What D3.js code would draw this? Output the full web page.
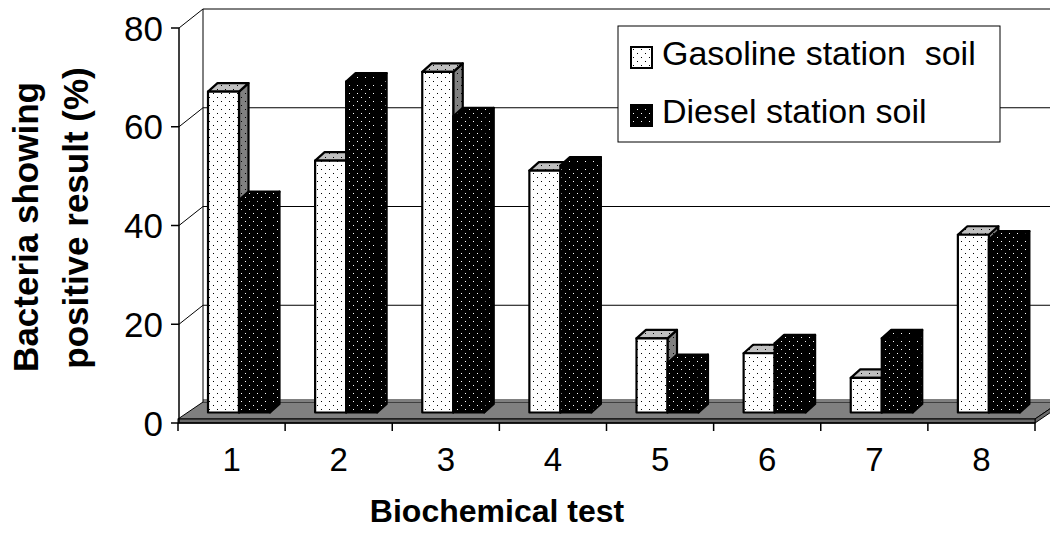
<!DOCTYPE html>
<html><head><meta charset="utf-8">
<script src="https://cdn.jsdelivr.net/npm/d3@7"></script>
<style>body{margin:0;background:#fff} text{font-family:"Liberation Sans",Arial,sans-serif;fill:#000}</style>
</head><body><svg id="c" width="1050" height="537"></svg>
<script>
const categories = ["1","2","3","4","5","6","7","8"];
const gasoline = [65,51,69,49,15,12,7,36];
const diesel = [43,67,60,50,10,14,15,35];
const seriesNames = ["Gasoline station  soil","Diesel station soil"];
const yTicks = [0,20,40,60,80];
const yTitle = ["Bacteria showing","positive result (%)"];
const xTitle = "Biochemical test";

const svg = d3.select("#c");
const x = d3.scaleBand().domain(categories).range([178,1035]);
const y = d3.scaleLinear().domain([0,80]).range([423,28]);
const WD = [25,-19];      // wall depth offset
const BP = [13,-10.5];    // bar front plane offset
const BD = [9.5,-8.5];    // bar depth offset
const sub = d3.scaleBand().domain([0,1]).range([17,79]);
const x0 = x.range()[0], x1 = x.range()[1], y0 = y(0);

const defs = svg.append("defs");
function pat(id,bg,fg){
  const p = defs.append("pattern").attr("id",id).attr("patternUnits","userSpaceOnUse")
    .attr("width",8).attr("height",8);
  p.append("rect").attr("width",8).attr("height",8).attr("fill",bg);
  [[1,1],[5,5]].forEach(d=>p.append("rect").attr("x",d[0]).attr("y",d[1]).attr("width",1).attr("height",1).attr("fill",fg));
}
pat("gasFront","#ffffff","#000");
pat("gasTop","#c0c0c0","#000");
pat("gasSide","#808080","#000");
pat("dieFront","#000000","#fff");

const series = [
  {name:seriesNames[0], values:gasoline, front:"url(#gasFront)", top:"url(#gasTop)", side:"url(#gasSide)"},
  {name:seriesNames[1], values:diesel, front:"url(#dieFront)", top:"url(#dieFront)", side:"url(#dieFront)"}
];

// back wall + left wall
const g = svg.append("g");
yTicks.forEach(v=>{
  g.append("line").attr("x1",x0+WD[0]).attr("x2",1050).attr("y1",y(v)+WD[1]).attr("y2",y(v)+WD[1])
    .attr("stroke","#000").attr("stroke-width",1);
  if(v>0) g.append("line").attr("x1",x0+1).attr("y1",y(v)).attr("x2",x0+WD[0]).attr("y2",y(v)+WD[1])
    .attr("stroke","#000").attr("stroke-width",1);
});
g.append("line").attr("x1",x0+WD[0]).attr("x2",x0+WD[0]).attr("y1",y(80)+WD[1]).attr("y2",y0+WD[1])
  .attr("stroke","#000").attr("stroke-width",1);
g.append("line").attr("x1",x0+WD[0]).attr("x2",1050).attr("y1",y0+WD[1]-4).attr("y2",y0+WD[1]-4)
  .attr("stroke","#000").attr("stroke-width",1);

// floor
const ft = y0-4, bt = y0+WD[1]-2;
g.append("path").attr("d",`M${x0},${ft}L${x1},${ft}L${x1+WD[0]},${bt}L${x0+WD[0]},${bt}Z`)
  .attr("fill","#808080").attr("stroke","#000").attr("stroke-width",1);
g.append("path").attr("d",`M${x1},${ft}L${x1+WD[0]},${bt}L${x1+WD[0]},${bt+4}L${x1},${y0}Z`)
  .attr("fill","#6a6a6a").attr("stroke","#000").attr("stroke-width",1);
g.append("rect").attr("x",x0).attr("y",ft).attr("width",x1-x0).attr("height",y0-ft)
  .attr("fill","#6a6a6a").attr("stroke","#000").attr("stroke-width",1);

// bars
const bars = svg.append("g");
categories.forEach((c,i)=>{
  series.forEach((s,si)=>{
    const v = s.values[i];
    const L = x(c)+BP[0]+sub(si), R = L+sub.bandwidth();
    const T = y(v)+BP[1], B = y(0)+BP[1];
    const bg = bars.append("g").attr("stroke","#000").attr("stroke-width",2.2).attr("stroke-linejoin","round");
    bg.append("path").attr("d",`M${R},${B}L${R+BD[0]},${B+BD[1]}L${R+BD[0]},${T+BD[1]}L${R},${T}Z`).attr("fill",s.side);
    bg.append("path").attr("d",`M${L},${T}L${L+BD[0]},${T+BD[1]}L${R+BD[0]},${T+BD[1]}L${R},${T}Z`).attr("fill",s.top);
    bg.append("rect").attr("x",L).attr("y",T).attr("width",R-L).attr("height",B-T).attr("fill",s.front);
  });
});

// axes
const ax = svg.append("g");
ax.append("line").attr("x1",x0+1).attr("x2",x0+1).attr("y1",y(80)).attr("y2",y0).attr("stroke","#000").attr("stroke-width",1.5);
yTicks.forEach(v=>{
  ax.append("line").attr("x1",x0-7).attr("x2",x0+1).attr("y1",y(v)).attr("y2",y(v)).attr("stroke","#000").attr("stroke-width",1.5);
  ax.append("text").attr("x",163).attr("y",y(v)).attr("dy","0.36em").attr("text-anchor","end")
    .attr("font-size",35).text(v);
});
ax.append("line").attr("x1",x0).attr("x2",x1).attr("y1",y0).attr("y2",y0).attr("stroke","#000").attr("stroke-width",1.5);
categories.concat([null]).forEach((c,i)=>{
  const xx = c===null ? x1 : x(c);
  ax.append("line").attr("x1",xx).attr("x2",xx).attr("y1",y0).attr("y2",y0+8).attr("stroke","#000").attr("stroke-width",1.5);
});
categories.forEach(c=>{
  ax.append("text").attr("x",x(c)+x.bandwidth()/2).attr("y",471).attr("text-anchor","middle")
    .attr("font-size",33).text(c);
});

// titles
const yt = [[38,227],[88,218]];
yTitle.forEach((t,i)=>{
  svg.append("text").attr("transform",`translate(${yt[i][0]},${yt[i][1]}) rotate(-90)`)
    .attr("text-anchor","middle").attr("font-size",35).attr("font-weight","bold").text(t);
});
svg.append("text").attr("x",497).attr("y",522).attr("text-anchor","middle")
  .attr("font-size",32).attr("font-weight","bold").text(xTitle);

// legend
const lg = svg.append("g");
lg.append("rect").attr("x",618).attr("y",26).attr("width",382).attr("height",116)
  .attr("fill","#fff").attr("stroke","#000").attr("stroke-width",1);
const ly = [47,105];
series.forEach((s,i)=>{
  lg.append("rect").attr("x",631).attr("y",ly[i]).attr("width",21).attr("height",21)
    .attr("fill",s.front).attr("stroke","#000").attr("stroke-width",2);
  lg.append("text").attr("x",662).attr("y",ly[i]+18).attr("font-size",34)
    .attr("xml:space","preserve").style("white-space","pre").text(s.name);
});
</script></body></html>
